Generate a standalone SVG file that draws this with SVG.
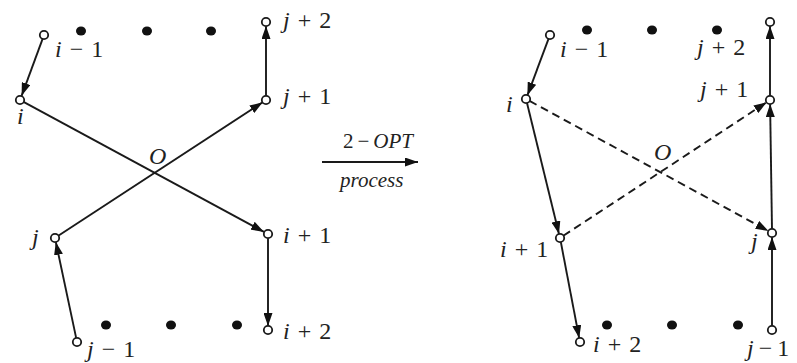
<svg xmlns="http://www.w3.org/2000/svg" width="797" height="363" viewBox="0 0 797 363">
<style>
.e{stroke:#1a1a1a;stroke-width:1.9;fill:none}
.a{marker-end:url(#ah)}
.d{stroke-dasharray:8 5}
.n{fill:#fff;stroke:#1a1a1a;stroke-width:1.8}
.dot{fill:#111}
.v{font-style:italic}
</style>
<defs>
<marker id="ah" markerUnits="userSpaceOnUse" markerWidth="13" markerHeight="9" refX="13" refY="4.5" orient="auto">
<path d="M0,0 L13,4.5 L0,9 z" fill="#111"/>
</marker>
</defs>
<g id="connectors">
<line class="e a" x1="42.6" y1="38.8" x2="21.6" y2="95.8"/>
<line class="e a" x1="23.5" y1="101.9" x2="264" y2="231.9"/>
<line class="e a" x1="58.3" y1="235.8" x2="262.7" y2="102.2"/>
<line class="e a" x1="266" y1="96" x2="266" y2="26"/>
<line class="e a" x1="76.2" y1="338.1" x2="55.8" y2="241.9"/>
<line class="e a" x1="268" y1="238" x2="268" y2="326"/>
<line class="e a" x1="322" y1="162" x2="418" y2="162"/>
<line class="e a" x1="548.6" y1="38.7" x2="527.4" y2="95.3"/>
<line class="e a" x1="527" y1="102.9" x2="559" y2="234.1"/>
<line class="e a" x1="560.8" y1="241.9" x2="579.2" y2="338.1"/>
<line class="e a d" x1="529.5" y1="100.9" x2="768.5" y2="231.1"/>
<line class="e a d" x1="563.3" y1="235.8" x2="766.7" y2="102.2"/>
<line class="e a" x1="772" y1="326" x2="772" y2="237"/>
<line class="e a" x1="772" y1="229" x2="770.1" y2="104"/>
<line class="e a" x1="770" y1="96" x2="770" y2="26"/>
</g>
<g id="dots">
<ellipse class="dot" cx="81" cy="31" rx="5" ry="4.5"/>
<ellipse class="dot" cx="147" cy="31" rx="5" ry="4.5"/>
<ellipse class="dot" cx="211" cy="31" rx="5" ry="4.5"/>
<ellipse class="dot" cx="106" cy="325" rx="5" ry="4.5"/>
<ellipse class="dot" cx="171" cy="325" rx="5" ry="4.5"/>
<ellipse class="dot" cx="237" cy="325" rx="5" ry="4.5"/>
<ellipse class="dot" cx="587" cy="30" rx="5" ry="4.5"/>
<ellipse class="dot" cx="652" cy="30" rx="5" ry="4.5"/>
<ellipse class="dot" cx="717" cy="30" rx="5" ry="4.5"/>
<ellipse class="dot" cx="607" cy="325" rx="5" ry="4.5"/>
<ellipse class="dot" cx="672" cy="325" rx="5" ry="4.5"/>
<ellipse class="dot" cx="738" cy="325" rx="5" ry="4.5"/>
</g>
<g font-family="'Liberation Serif', 'Times New Roman', serif" font-size="24" fill="#222">
<g id="L-im1"><circle class="n" cx="44" cy="35" r="4.2"/><text x="55" y="57"><tspan class="v">i</tspan><tspan dx="8">−</tspan><tspan dx="8">1</tspan></text></g>
<g id="L-i"><circle class="n" cx="20" cy="100" r="4.2"/><text class="v" x="17" y="124">i</text></g>
<g id="L-jp2"><circle class="n" cx="266" cy="22" r="4.2"/><text x="283" y="28"><tspan class="v">j</tspan><tspan dx="8">+</tspan><tspan dx="8">2</tspan></text></g>
<g id="L-jp1"><circle class="n" cx="266" cy="100" r="4.2"/><text x="283" y="104"><tspan class="v">j</tspan><tspan dx="8">+</tspan><tspan dx="8">1</tspan></text></g>
<g id="L-j"><circle class="n" cx="55" cy="238" r="4.2"/><text class="v" x="32" y="245">j</text></g>
<g id="L-ip1"><circle class="n" cx="268" cy="234" r="4.2"/><text x="283" y="243"><tspan class="v">i</tspan><tspan dx="8">+</tspan><tspan dx="8">1</tspan></text></g>
<g id="L-ip2"><circle class="n" cx="268" cy="330" r="4.2"/><text x="283" y="339"><tspan class="v">i</tspan><tspan dx="8">+</tspan><tspan dx="8">2</tspan></text></g>
<g id="L-jm1"><circle class="n" cx="77" cy="342" r="4.2"/><text x="87" y="357"><tspan class="v">j</tspan><tspan dx="8">−</tspan><tspan dx="8">1</tspan></text></g>
<text class="v" x="149" y="164">O</text>
<g id="process" font-size="21"><text x="343" y="148"><tspan>2</tspan><tspan dx="4">−</tspan><tspan class="v" dx="4">OPT</tspan></text><text class="v" x="340" y="187">process</text></g>
<g id="R-im1"><circle class="n" cx="550" cy="35" r="4.2"/><text x="560" y="57"><tspan class="v">i</tspan><tspan dx="8">−</tspan><tspan dx="8">1</tspan></text></g>
<g id="R-i"><circle class="n" cx="526" cy="99" r="4.2"/><text class="v" x="506" y="112">i</text></g>
<g id="R-jp2"><circle class="n" cx="770" cy="22" r="4.2"/><text x="697" y="55"><tspan class="v">j</tspan><tspan dx="8">+</tspan><tspan dx="8">2</tspan></text></g>
<g id="R-jp1"><circle class="n" cx="770" cy="100" r="4.2"/><text x="700" y="97"><tspan class="v">j</tspan><tspan dx="8">+</tspan><tspan dx="8">1</tspan></text></g>
<g id="R-ip1"><circle class="n" cx="560" cy="238" r="4.2"/><text x="500" y="257"><tspan class="v">i</tspan><tspan dx="8">+</tspan><tspan dx="8">1</tspan></text></g>
<g id="R-j"><circle class="n" cx="772" cy="233" r="4.2"/><text class="v" x="751" y="249">j</text></g>
<g id="R-ip2"><circle class="n" cx="580" cy="342" r="4.2"/><text x="593" y="352"><tspan class="v">i</tspan><tspan dx="8">+</tspan><tspan dx="8">2</tspan></text></g>
<g id="R-jm1"><circle class="n" cx="772" cy="330" r="4.2"/><text x="747" y="356"><tspan class="v">j</tspan><tspan dx="5">−</tspan><tspan dx="5">1</tspan></text></g>
<text class="v" x="654" y="160">O</text>
</g>
</svg>
